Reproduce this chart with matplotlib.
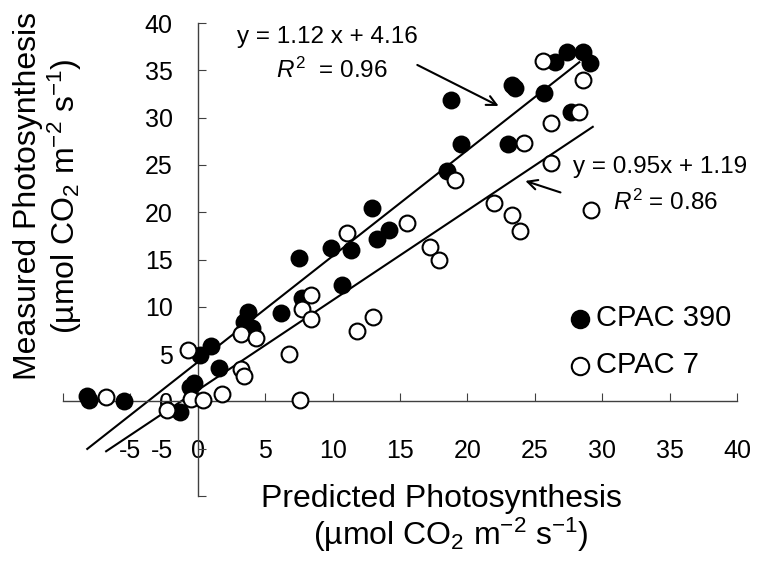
import numpy as np
import matplotlib
matplotlib.use('Agg')
import matplotlib.pyplot as plt

plt.rcParams['font.family'] = ['Liberation Sans', 'DejaVu Sans']
plt.rcParams['mathtext.fontset'] = 'custom'
plt.rcParams['mathtext.rm'] = 'Liberation Sans'
plt.rcParams['mathtext.it'] = 'Liberation Sans:italic'

# CPAC 390 (filled) - predicted vs measured
x390 = [-8.2, -8.1, -5.5, -1.3, -0.6, -0.3, 0.2, 1.0, 1.6, 3.7, 3.4, 4.0, 6.2, 7.5,
        7.7, 9.9, 11.4, 10.7, 12.9, 13.3, 14.2, 18.5, 18.8, 19.5, 23.0, 23.3, 23.5,
        25.7, 26.5, 27.4, 28.6, 29.1, 27.7]
y390 = [0.6, 0.1, 0.0, -1.1, 1.5, 1.9, 4.9, 5.9, 3.5, 9.4, 8.4, 7.8, 9.3, 15.2,
        10.9, 16.2, 16.0, 12.3, 20.4, 17.2, 18.1, 24.4, 31.9, 27.2, 27.2, 33.4, 33.1,
        32.6, 35.9, 36.9, 36.9, 35.8, 30.6]

# CPAC 7 (open)
x7 = [-6.8, -2.3, -0.5, 0.4, 1.8, 7.6, -0.7, 3.2, 3.4, 6.8, 3.2, 4.3, 7.7, 8.4,
      8.4, 11.1, 11.8, 13.0, 15.5, 17.2, 17.9, 19.1, 22.0, 23.3, 23.9, 24.2, 26.2,
      26.2, 28.3, 28.6, 25.6, 29.2]
y7 = [0.5, -0.9, 0.3, 0.1, 0.8, 0.2, 5.4, 3.4, 2.7, 5.0, 7.1, 6.7, 9.8, 11.2,
      8.7, 17.8, 7.4, 8.9, 18.9, 16.3, 15.0, 23.4, 21.0, 19.7, 18.0, 27.3, 25.2,
      29.4, 30.6, 34.0, 36.0, 20.2]

# trendlines: slope, intercept, x range
fit390 = (1.12, 4.16)
fit7 = (0.95, 1.19)
range390 = [-8.2, 28.3]
range7 = [-6.8, 29.3]

ticks = [-10, -5, 0, 5, 10, 15, 20, 25, 30, 35, 40]
ticklabels = ['', '-5', '0', '5', '10', '15', '20', '25', '30', '35', '40']

fig = plt.figure(figsize=(7.58, 5.67), dpi=100)
ax = fig.add_axes([0.0831, 0.1252, 0.8892, 0.8342])

ax.scatter(x390, y390, s=130, facecolor='black', edgecolor='black', linewidths=1.5,
           zorder=3, label='CPAC 390')
ax.scatter(x7, y7, s=130, facecolor='white', edgecolor='black', linewidths=1.5,
           zorder=4, label='CPAC 7')

for (m, b), xr in [(fit390, range390), (fit7, range7)]:
    xx = np.array(xr)
    ax.plot(xx, m * xx + b, color='black', lw=1.5, zorder=2)

ax.set_xlim(-10, 40)
ax.set_ylim(-10, 40)
ax.spines['left'].set_position(('data', 0))
ax.spines['bottom'].set_position(('data', 0))
ax.spines['top'].set_visible(False)
ax.spines['right'].set_visible(False)
for s in ['left', 'bottom']:
    ax.spines[s].set_color('#404040')
    ax.spines[s].set_linewidth(1.0)

ax.set_xticks(ticks)
ax.set_xticklabels(ticklabels)
ax.set_yticks(ticks)
ax.set_yticklabels(ticklabels)
ax.tick_params(axis='x', direction='in', length=6, color='#404040', labelsize=18, pad=27)
ax.tick_params(axis='y', direction='in', length=6, color='#404040', labelsize=18, pad=18)

# equations and arrows
ax.text(2.9, 38.5, 'y = 1.12 x + 4.16', fontsize=17.5, va='center', ha='left')
ax.text(5.8, 35.0, '$R^2$  = 0.96', fontsize=17.5, va='center', ha='left')
ax.annotate('', xy=(22.5, 31.1), xytext=(16.1, 35.7),
            arrowprops=dict(arrowstyle='->,head_length=0.7,head_width=0.35', lw=1.5, color='black'))
ax.text(27.8, 24.8, 'y = 0.95x + 1.19', fontsize=17.5, va='center', ha='left')
ax.text(30.8, 21.1, '$R^2$ = 0.86', fontsize=17.5, va='center', ha='left')
ax.annotate('', xy=(24.1, 23.4), xytext=(27.1, 22.0),
            arrowprops=dict(arrowstyle='->,head_length=0.7,head_width=0.35', lw=1.5, color='black'))

ax.legend(loc='upper left', bbox_to_anchor=(0.734, 0.489), bbox_transform=fig.transFigure,
          frameon=False, fontsize=21, handlelength=0.6, handletextpad=0.25,
          labelspacing=0.65, markerscale=1.1, borderpad=0)

# axis titles
fig.text(0.037, 0.654, 'Measured Photosynthesis', rotation=90, fontsize=23,
         ha='center', va='center')
fig.text(0.086, 0.654, '(µmol CO$_2$ m$^{-2}$ s$^{-1}$)', rotation=90, fontsize=23,
         ha='center', va='center')
fig.text(0.582, 0.120, 'Predicted Photosynthesis', fontsize=23, ha='center', va='center')
fig.text(0.595, 0.056, '(µmol CO$_2$ m$^{-2}$ s$^{-1}$)', fontsize=23, ha='center', va='center')

fig.savefig('out.png', dpi=100)
